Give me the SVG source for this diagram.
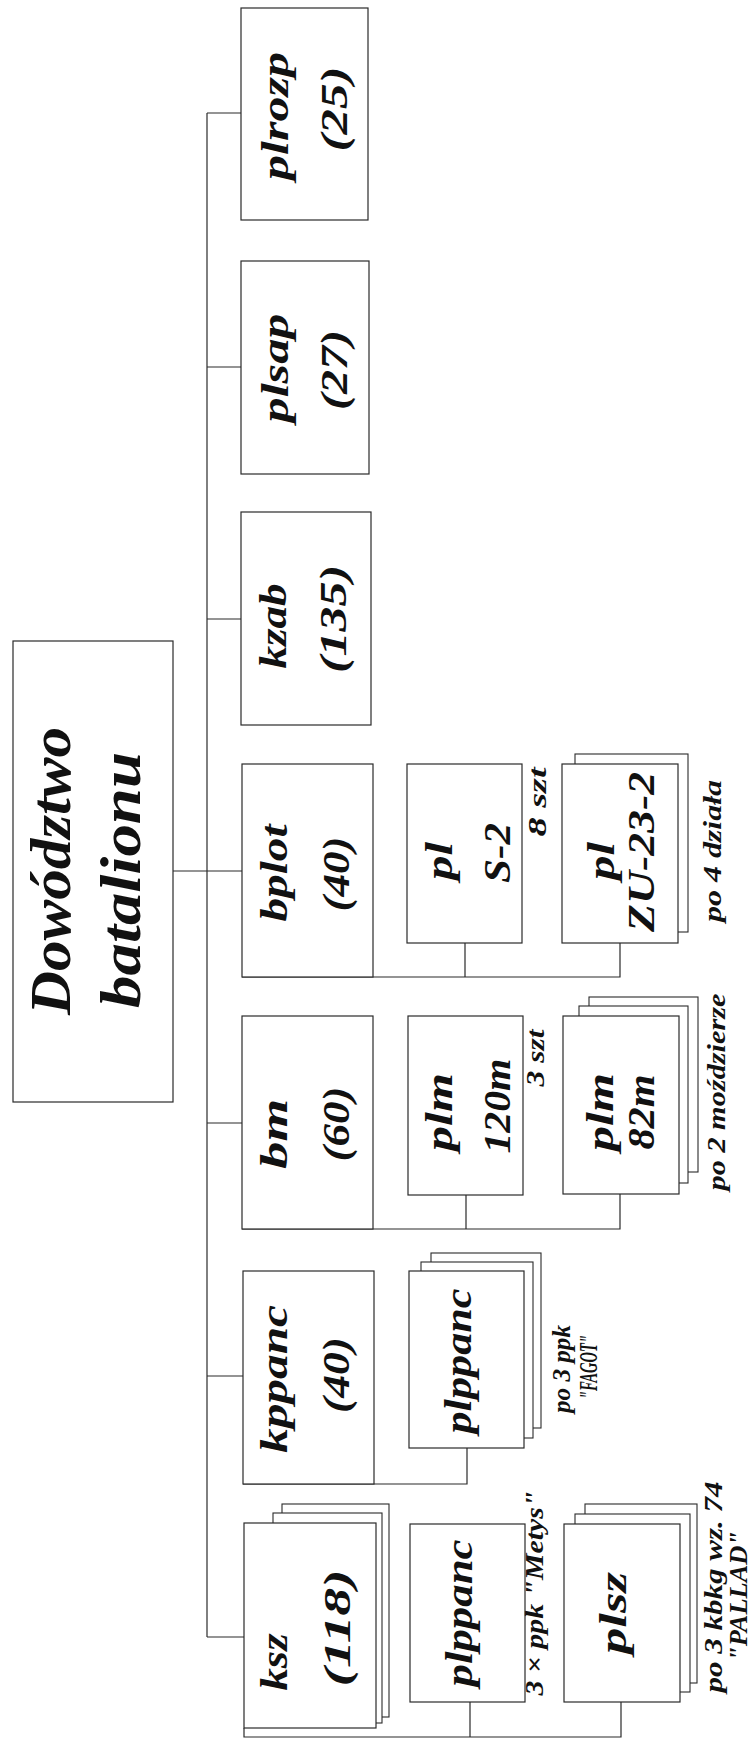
<svg xmlns="http://www.w3.org/2000/svg" width="755" height="1742" viewBox="0 0 755 1742">
<style>
.bx{fill:#fff;stroke:#2a2a2a;stroke-width:1.2}
.sh{fill:#fff;stroke:#2a2a2a;stroke-width:1.1}
.cn{fill:none;stroke:#2a2a2a;stroke-width:1.2}
text{font-family:"Liberation Serif","Times New Roman",serif;font-style:italic;font-weight:bold;fill:#111;text-anchor:middle}
.t{font-size:38px}
.h{font-size:56px}
.a{font-size:25px}
</style>
<rect width="755" height="1742" fill="#fff"/>
<g id="connectors">
<path class="cn" d="M207,113 V1637"/>
<path class="cn" d="M207,113 H242 M207,367 H242 M207,619 H242 M173,871 H242 M207,1123 H242 M207,1376 H243 M207,1637 H244"/>
<path class="cn" d="M242,977 H620 V943 M465,977 V943"/>
<path class="cn" d="M242,1229 H620 V1194 M466,1229 V1195"/>
<path class="cn" d="M243,1484 H467 V1448"/>
<path class="cn" d="M244,1728 V1737 H621 V1702 M470,1737 V1702"/>
</g>
<g id="dowodztwo">
<rect class="bx" x="13" y="641" width="160" height="461"/>
<text class="h" transform="translate(70,871) rotate(-90)" textLength="288" lengthAdjust="spacingAndGlyphs">Dowództwo</text>
<text class="h" transform="translate(140,880) rotate(-90)" textLength="256" lengthAdjust="spacingAndGlyphs">batalionu</text>
</g>
<g id="plrozp">
<rect class="bx" x="241" y="8" width="127" height="212"/>
<text class="t" transform="translate(288,116) rotate(-90)" textLength="128" lengthAdjust="spacingAndGlyphs">plrozp</text>
<text class="t" transform="translate(347,109) rotate(-90)" textLength="85" lengthAdjust="spacingAndGlyphs">(25)</text>
</g>
<g id="plsap">
<rect class="bx" x="241" y="261" width="128" height="213"/>
<text class="t" transform="translate(288,368) rotate(-90)" textLength="109" lengthAdjust="spacingAndGlyphs">plsap</text>
<text class="t" transform="translate(347,370) rotate(-90)" textLength="80" lengthAdjust="spacingAndGlyphs">(27)</text>
</g>
<g id="kzab">
<rect class="bx" x="241" y="512" width="130" height="213"/>
<text class="t" transform="translate(286,626) rotate(-90)" textLength="85" lengthAdjust="spacingAndGlyphs">kzab</text>
<text class="t" transform="translate(346,619) rotate(-90)" textLength="108" lengthAdjust="spacingAndGlyphs">(135)</text>
</g>
<g id="bplot">
<rect class="bx" x="242" y="764" width="131" height="213"/>
<text class="t" transform="translate(287,873) rotate(-90)" textLength="97" lengthAdjust="spacingAndGlyphs">bplot</text>
<text class="t" transform="translate(349,874) rotate(-90)" textLength="75" lengthAdjust="spacingAndGlyphs">(40)</text>
</g>
<g id="pl-s2">
<rect class="bx" x="407" y="764" width="115" height="179"/>
<text class="t" transform="translate(452,861) rotate(-90)" textLength="38" lengthAdjust="spacingAndGlyphs">pl</text>
<text class="t" transform="translate(510,853) rotate(-90)" textLength="60" lengthAdjust="spacingAndGlyphs">S-2</text>
<text class="a" transform="translate(546,802) rotate(-90)" textLength="69" lengthAdjust="spacingAndGlyphs">8 szt</text>
</g>
<g id="pl-zu232">
<rect class="sh" x="575" y="754" width="113" height="178"/>
<rect class="bx" x="562" y="764" width="116" height="179"/>
<text class="t" transform="translate(614,861) rotate(-90)" textLength="38" lengthAdjust="spacingAndGlyphs">pl</text>
<text class="t" transform="translate(654,852) rotate(-90)" textLength="160" lengthAdjust="spacingAndGlyphs">ZU-23-2</text>
<text class="a" transform="translate(721,851) rotate(-90)" textLength="142" lengthAdjust="spacingAndGlyphs">po 4 działa</text>
</g>
<g id="bm">
<rect class="bx" x="242" y="1016" width="131" height="213"/>
<text class="t" transform="translate(287,1134) rotate(-90)" textLength="70" lengthAdjust="spacingAndGlyphs">bm</text>
<text class="t" transform="translate(349,1124) rotate(-90)" textLength="75" lengthAdjust="spacingAndGlyphs">(60)</text>
</g>
<g id="plm120m">
<rect class="bx" x="408" y="1016" width="115" height="179"/>
<text class="t" transform="translate(452,1112) rotate(-90)" textLength="78" lengthAdjust="spacingAndGlyphs">plm</text>
<text class="t" transform="translate(510,1106) rotate(-90)" textLength="95" lengthAdjust="spacingAndGlyphs">120m</text>
<text class="a" transform="translate(544,1058) rotate(-90)" textLength="57" lengthAdjust="spacingAndGlyphs">3 szt</text>
</g>
<g id="plm82m">
<rect class="sh" x="589" y="997" width="109" height="175"/>
<rect class="sh" x="579" y="1006" width="109" height="177"/>
<rect class="bx" x="563" y="1016" width="116" height="178"/>
<text class="t" transform="translate(613,1112) rotate(-90)" textLength="78" lengthAdjust="spacingAndGlyphs">plm</text>
<text class="t" transform="translate(654,1112) rotate(-90)" textLength="75" lengthAdjust="spacingAndGlyphs">82m</text>
<text class="a" transform="translate(725,1092) rotate(-90)" textLength="197" lengthAdjust="spacingAndGlyphs">po 2 moździerze</text>
</g>
<g id="kppanc">
<rect class="bx" x="243" y="1271" width="131" height="213"/>
<text class="t" transform="translate(287,1379) rotate(-90)" textLength="148" lengthAdjust="spacingAndGlyphs">kppanc</text>
<text class="t" transform="translate(349,1375) rotate(-90)" textLength="76" lengthAdjust="spacingAndGlyphs">(40)</text>
</g>
<g id="plppanc-fagot">
<rect class="sh" x="431" y="1253" width="110" height="175"/>
<rect class="sh" x="421" y="1262" width="112" height="176"/>
<rect class="bx" x="409" y="1271" width="115" height="177"/>
<text class="t" transform="translate(471,1361) rotate(-90)" textLength="145" lengthAdjust="spacingAndGlyphs">plppanc</text>
<text class="a" transform="translate(570,1369) rotate(-90)" textLength="88" lengthAdjust="spacingAndGlyphs">po 3 ppk</text>
<text class="a" transform="translate(597,1367) rotate(-90)" textLength="64" lengthAdjust="spacingAndGlyphs">"FAGOT"</text>
</g>
<g id="ksz">
<rect class="sh" x="282" y="1504" width="107" height="213"/>
<rect class="sh" x="273" y="1513" width="109" height="210"/>
<rect class="bx" x="244" y="1523" width="132" height="205"/>
<text class="t" transform="translate(287,1662) rotate(-90)" textLength="57" lengthAdjust="spacingAndGlyphs">ksz</text>
<text class="t" transform="translate(350,1628) rotate(-90)" textLength="117" lengthAdjust="spacingAndGlyphs">(118)</text>
</g>
<g id="plppanc-metys">
<rect class="bx" x="410" y="1524" width="115" height="178"/>
<text class="t" transform="translate(472,1613) rotate(-90)" textLength="147" lengthAdjust="spacingAndGlyphs">plppanc</text>
<text class="a" transform="translate(543,1593) rotate(-90)" textLength="205" lengthAdjust="spacingAndGlyphs">3 × ppk "Metys"</text>
</g>
<g id="plsz">
<rect class="sh" x="585" y="1504" width="112" height="179"/>
<rect class="sh" x="575" y="1514" width="115" height="178"/>
<rect class="bx" x="564" y="1524" width="116" height="178"/>
<text class="t" transform="translate(626,1613) rotate(-90)" textLength="82" lengthAdjust="spacingAndGlyphs">plsz</text>
<text class="a" transform="translate(722,1587) rotate(-90)" textLength="211" lengthAdjust="spacingAndGlyphs">po 3 kbkg wz. 74</text>
<text class="a" transform="translate(747,1596) rotate(-90)" textLength="130" lengthAdjust="spacingAndGlyphs">"PALLAD"</text>
</g>
</svg>
